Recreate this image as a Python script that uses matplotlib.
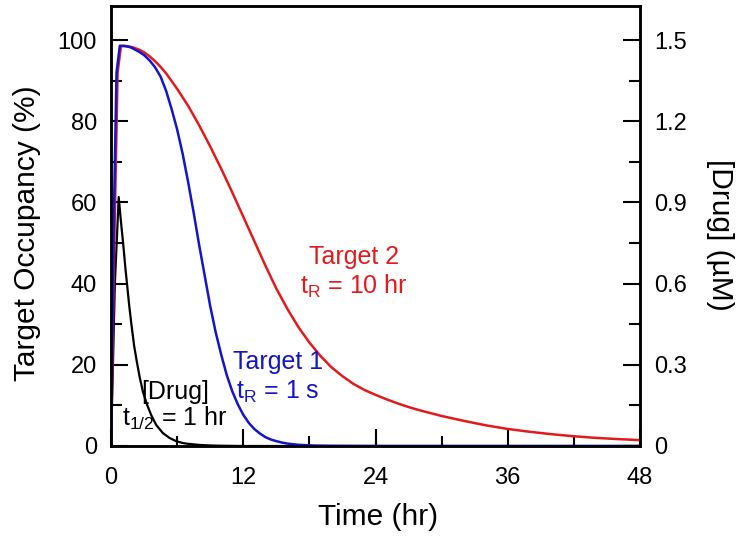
import matplotlib
matplotlib.use("Agg")
import matplotlib.pyplot as plt
from matplotlib.ticker import MultipleLocator

plt.rcParams['font.family'] = ['Liberation Sans', 'DejaVu Sans']
plt.rcParams['mathtext.default'] = 'regular'

# ---- data ----
time_t1 = [0, 0.25, 0.5, 0.8, 1.2, 1.8, 2.5, 3.0, 3.5, 4.0, 4.5, 5.0, 5.5, 6.0, 6.5, 7.0,
           7.5, 8.0, 8.5, 9.0, 9.5, 10.0, 10.5, 11.0, 11.5, 12.0, 12.5, 13.0, 13.5, 14.0,
           14.5, 15.0, 15.5, 16.0, 17.0, 18.5, 20.0, 24.0, 48.0]
occ_t1 = [0, 55, 92, 98.6, 98.6, 98.2, 97.2, 96.3, 95.0, 93.3, 91.0, 87.5, 83, 78, 72, 65,
          57.5, 49.5, 42, 34.5, 28, 22.5, 17.5, 13.5, 10.3, 7.7, 5.7, 4.2, 3.1, 2.2,
          1.6, 1.2, 0.85, 0.6, 0.3, 0.1, 0.04, 0, 0]

time_t2 = [0, 0.3, 0.6, 0.9, 1.5, 2.0, 2.5, 3.0, 3.5, 4.0, 4.5, 5.0, 6.0, 7.0, 8.0, 9.0,
           10.0, 11.0, 12.0, 13.0, 14.0, 15.0, 16.0, 17.0, 18.0, 19.0, 20.0, 21.0, 22.0,
           23.0, 24.0, 25.0, 26.0, 27.0, 28.0, 30.0, 32.0, 34.0, 36.0, 38.0, 40.0, 42.0,
           44.0, 46.0, 48.0]
occ_t2 = [0, 50, 92, 98.5, 98.5, 98.2, 97.7, 97.0, 96.0, 94.8, 93.4, 91.8, 88, 83.8, 79,
          73.8, 68.3, 62.5, 56.5, 50.5, 44.5, 38.8, 33.8, 29.3, 25.5, 22.2, 19.4, 17.2,
          15.3, 13.8, 12.6, 11.5, 10.5, 9.6, 8.8, 7.4, 6.2, 5.1, 4.2, 3.5, 2.9, 2.4,
          2.0, 1.7, 1.45]

time_drug = [0, 0.35, 0.7, 0.9, 1.1, 1.3, 1.45, 1.65, 1.85, 2.1, 2.35, 2.6, 2.9, 3.25,
             3.65, 4.1, 4.7, 5.3, 5.9, 6.5, 7.0, 8.0, 9.0, 10.0, 12.0, 48.0]
conc_drug = [0, 0.60, 0.92, 0.83, 0.75, 0.66, 0.60, 0.52, 0.45, 0.37, 0.31, 0.255, 0.20,
             0.155, 0.114, 0.078, 0.048, 0.030, 0.018, 0.011, 0.008, 0.004, 0.002,
             0.001, 0, 0]

x_ticks = [0, 12, 24, 36, 48]
left_ticks = [0, 20, 40, 60, 80, 100]
right_ticks = [0, 0.3, 0.6, 0.9, 1.2, 1.5]
right_tick_labels = ['0', '0.3', '0.6', '0.9', '1.2', '1.5']

RED = '#e31a1c'
BLUE = '#1414c8'

fig = plt.figure(figsize=(7.45, 5.38), dpi=100)
ax = fig.add_axes([111/745, 92/538, 529/745, 440/538])
ax2 = ax.twinx()

ax.plot(time_drug, [c / 1.5 * 100 for c in conc_drug], color='black', lw=1.6, zorder=2)
ax.plot(time_t2, occ_t2, color=RED, lw=1.8, zorder=3)
ax.plot(time_t1, occ_t1, color=BLUE, lw=1.8, zorder=4)

ax.set_xlim(0, 48)
ax.set_ylim(0, 108.4)
ax2.set_ylim(0, 1.626)

ax.set_xticks(x_ticks)
ax.xaxis.set_minor_locator(MultipleLocator(6))
ax.set_yticks(left_ticks)
ax.yaxis.set_minor_locator(MultipleLocator(10))
ax2.set_yticks(right_ticks)
ax2.set_yticklabels(right_tick_labels)
ax2.yaxis.set_minor_locator(MultipleLocator(0.15))

for a in (ax, ax2):
    for s in a.spines.values():
        s.set_linewidth(1.8)

ax.tick_params(axis='both', which='major', direction='in', length=12, width=1.5,
               labelsize=17, pad=10)
ax.tick_params(axis='x', which='major', pad=15)
ax.tick_params(axis='both', which='minor', direction='in', length=8, width=1.5)
ax.tick_params(axis='x', which='minor', length=7)
ax2.tick_params(axis='y', which='major', direction='in', length=12, width=1.5,
                labelsize=17, pad=10)
ax2.tick_params(axis='y', which='minor', direction='in', length=8, width=1.5)

# top tick drawn in gray in the reference
ax.yaxis.get_major_ticks()[-1].tick1line.set_color('#808080')
ax2.yaxis.get_major_ticks()[-1].tick2line.set_color('#808080')

ax.set_xlabel('Time (hr)', fontsize=21.5)
ax.set_ylabel('Target Occupancy (%)', fontsize=21.5)
ax2.set_ylabel('[Drug] (\u00b5M)', fontsize=21.5, rotation=270)
ax.xaxis.set_label_coords(0.505, -0.13)
ax.yaxis.set_label_coords(-0.132, 0.484)
ax2.yaxis.set_label_coords(1.178, 0.48)

fs = 18
ax.text(22.05, 46.6, 'Target 2', color=RED, fontsize=fs, ha='center', va='center')
ax.text(22.05, 39.2, r't$_{R}$ = 10 hr', color=RED, fontsize=fs, ha='center', va='center')
ax.text(15.15, 20.7, 'Target 1', color=BLUE, fontsize=fs, ha='center', va='center')
ax.text(15.15, 13.3, r't$_{R}$ = 1 s', color=BLUE, fontsize=fs, ha='center', va='center')
ax.text(5.8, 13.3, '[Drug]', color='black', fontsize=fs, ha='center', va='center')
ax.text(5.8, 6.9, r't$_{1/2}$ = 1 hr', color='black', fontsize=fs, ha='center', va='center')

fig.savefig('out.png', dpi=100)
